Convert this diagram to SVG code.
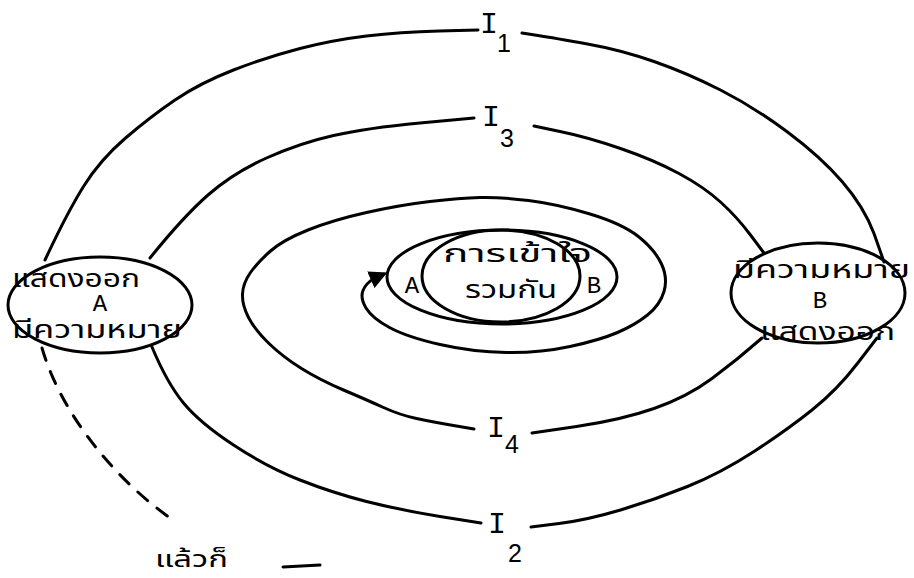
<svg xmlns="http://www.w3.org/2000/svg" width="914" height="578" viewBox="0 0 914 578">
<style>
.ln{fill:none;stroke:#000;stroke-width:3;stroke-linecap:round;stroke-linejoin:round}
.el{fill:none;stroke:#000;stroke-width:3}
.th{font-family:"Noto Sans Thai","Noto Serif Thai","TlwgTypewriter","Loma","Garuda","Norasi","Noto Sans",sans-serif;font-size:25px;fill:#000}
.lt{font-family:"Liberation Mono","DejaVu Sans Mono",monospace;font-size:24px;fill:#000;text-anchor:middle}
.ii{font-family:"Liberation Mono","DejaVu Sans Mono",monospace;font-size:30px;fill:#000;text-anchor:middle}
.dg{font-family:"Liberation Sans","DejaVu Sans",sans-serif;font-size:25px;fill:#000;text-anchor:middle}
</style>
<defs>
<marker id="ah" viewBox="0 0 10 10" refX="8" refY="5" markerWidth="6" markerHeight="6" orient="auto" markerUnits="strokeWidth">
<path d="M0,0 L10,5 L0,10 z" fill="#000"/>
</marker>
</defs>
<g id="connectors">
<path class="ln" d="M45,260 Q67,213 83.5,186.5 Q100,160 125,138.5 Q150,117 175,100 Q200,83 233.5,70 Q267,57 300,48.5 Q333,40 366.5,36 Q400,32 439,31 L478,30"/>
<path class="ln" d="M522,33 L538,35.5 Q554,38 587.5,44 Q621,50 654,61.5 Q687,73 720.5,90 Q754,107 787.5,132 Q821,157 842.5,182 Q864,207 874,233.5 L884,262"/>
<path class="ln" d="M150,258 Q183,217 208,195 Q233,173 266.5,158 Q300,143 333.5,135.5 Q367,128 420,123 L474,118"/>
<path class="ln" d="M534,126 L560,131.5 Q587,137 620.5,148.5 Q654,160 679,173.5 Q704,187 720.5,202 Q737,217 750.5,235 L764,253"/>
<path class="ln" d="M152,347 Q167,383 183.5,403 Q200,423 233.5,445 Q267,467 300,480 Q333,493 366.5,501.5 Q400,510 440,516.5 L481,523"/>
<path class="ln" d="M531,527 L559,523.5 Q587,520 620.5,510 Q654,500 687.5,486.5 Q721,473 754,451.5 Q787,430 812,410 Q837,390 857,364 L877,338"/>
<path class="ln" d="M762,338 Q737,360 712,378.5 Q687,397 654,408.5 Q621,420 576.5,426.5 L532,433"/>
<path class="ln" marker-end="url(#ah)" d="M474,429 L453.5,425.5 Q433,422 416.5,418.5 Q400,415 383.5,407.5 Q367,400 343.5,390 Q320,380 301.5,368.5 Q283,357 269,343.5 Q255,330 248.5,317.5 Q242,305 242.5,294 Q243,283 250.5,272.5 Q258,262 270.5,251 Q283,240 308,230 Q333,220 366.5,212.5 Q400,205 430,201.5 Q460,198 480,197.5 Q500,197 528.5,200.5 Q557,204 590,214 Q623,224 639,237 Q655,250 661.5,264 Q668,278 664,291.5 Q660,305 647.5,315 Q635,325 617.5,332.5 Q600,340 570,346.5 Q540,353 506.5,352.5 Q473,352 440,344.5 Q407,337 389.5,327.5 Q372,318 366,308 Q360,298 363,290.5 Q366,283 375,278 L384,274"/>
<path class="ln" stroke-dasharray="13 12" stroke-linecap="butt" d="M42,348 C60,410 110,475 170,518"/>
<path class="ln" stroke-width="2" d="M283,567 L320,565"/>
</g>
<g id="nodeA">
<ellipse class="el" cx="100" cy="305" rx="92" ry="48"/>
<text class="th" x="12" y="287" textLength="128" lengthAdjust="spacingAndGlyphs">แสดงออก</text>
<text class="lt" x="100" y="311">A</text>
<text class="th" x="12" y="338" textLength="170" lengthAdjust="spacingAndGlyphs">มีความหมาย</text>
</g>
<g id="nodeB">
<ellipse class="el" cx="818" cy="293" rx="87" ry="50"/>
<text class="th" x="733" y="278" textLength="177" lengthAdjust="spacingAndGlyphs">มีความหมาย</text>
<text class="lt" x="820" y="308">B</text>
<text class="th" x="760" y="340" textLength="135" lengthAdjust="spacingAndGlyphs">แสดงออก</text>
</g>
<g id="center">
<ellipse class="el" cx="502" cy="277" rx="115" ry="47"/>
<ellipse class="el" cx="501" cy="276" rx="79" ry="46"/>
<text class="th" x="443" y="262" textLength="149" lengthAdjust="spacingAndGlyphs">การเข้าใจ</text>
<text class="th" x="465" y="298" textLength="92" lengthAdjust="spacingAndGlyphs">รวมกัน</text>
<text class="lt" x="412" y="293">A</text>
<text class="lt" x="594" y="293">B</text>
</g>
<g id="labels">
<text class="ii" x="489" y="33">I</text><text class="dg" x="504" y="52">1</text>
<text class="ii" x="491" y="126">I</text><text class="dg" x="507" y="147">3</text>
<text class="ii" x="496" y="437">I</text><text class="dg" x="512" y="453">4</text>
<text class="ii" x="497" y="533">I</text><text class="dg" x="515" y="562">2</text>
<text class="th" x="155" y="567" style="font-size:23px" textLength="73" lengthAdjust="spacingAndGlyphs">แล้วก็</text>
</g>
</svg>
